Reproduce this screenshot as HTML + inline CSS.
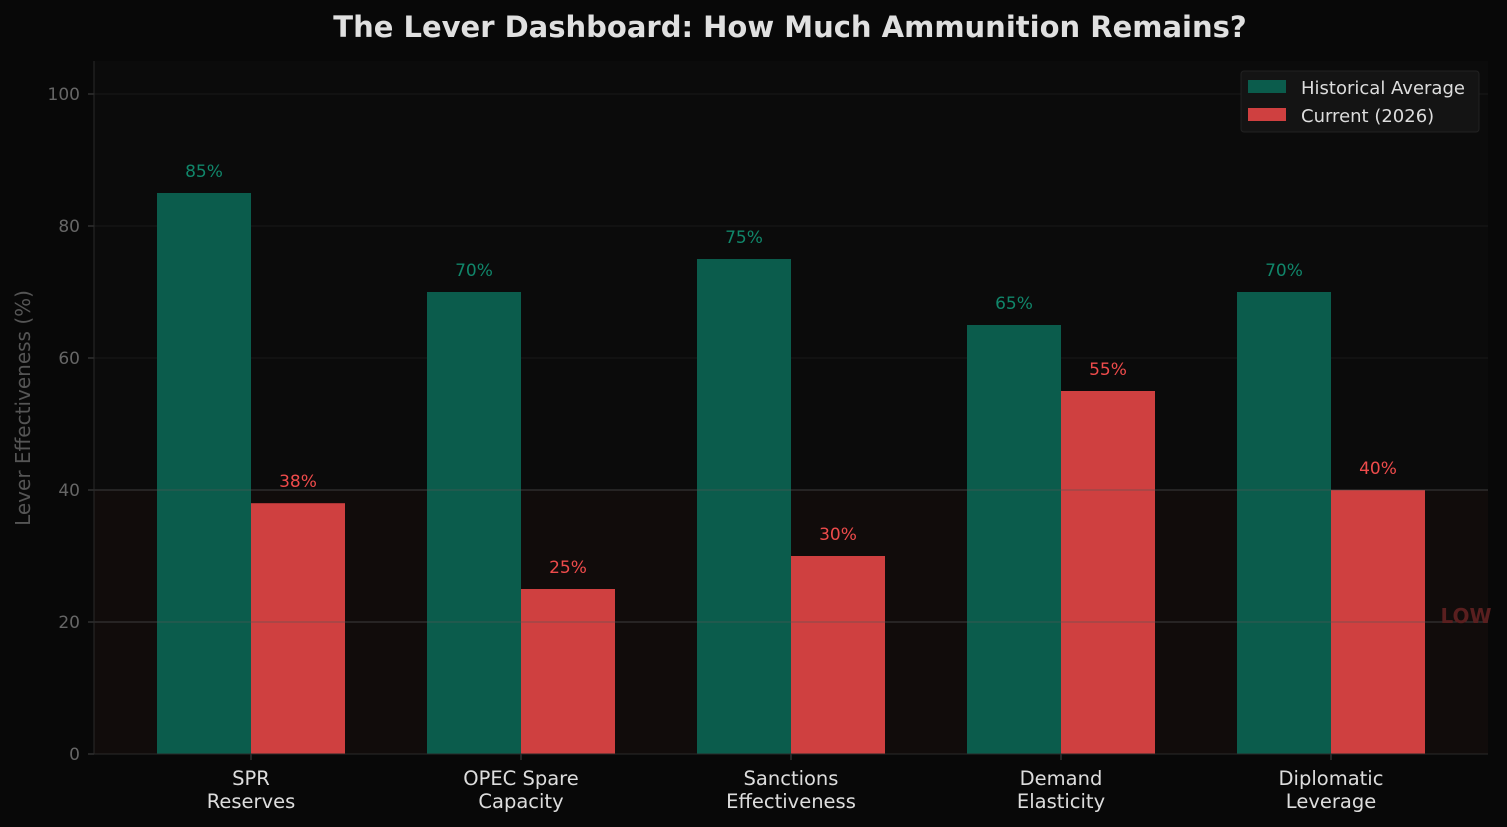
<!DOCTYPE html>
<html><head><meta charset="utf-8"><style>
body{margin:0;background:#080808;}
svg{display:block;font-family:"DejaVu Sans","Liberation Sans",sans-serif;}
</style></head><body>
<svg id="chart" width="1507" height="827">
<rect width="1507" height="827" fill="#080808"/>
<rect x="94" y="61" width="1394" height="693" fill="#0b0b0b"/>
<text x="790" y="37" fill="#e0e0e0" font-size="29" font-weight="bold" text-anchor="middle">The Lever Dashboard: How Much Ammunition Remains?</text>
<g id="grid"></g><g id="bars"></g><g id="axes"></g>
<g>
<rect x="1241" y="71" width="238" height="61" rx="3" fill="#141414" stroke="#222"/>
<rect x="1248" y="80" width="38" height="13" fill="#0b5c4c"/>
<text x="1301" y="94" fill="#dddddd" font-size="18">Historical Average</text>
<rect x="1248" y="108" width="38" height="13" fill="#cf4040"/>
<text x="1301" y="122" fill="#dddddd" font-size="18">Current (2026)</text>
</g>
</svg>
<script>
const categories=[["SPR","Reserves"],["OPEC Spare","Capacity"],["Sanctions","Effectiveness"],["Demand","Elasticity"],["Diplomatic","Leverage"]];
const historical=[85,70,75,65,70];
const current=[38,25,30,55,40];
const yTicks=[0,20,40,60,80,100];
const lowThreshold=40;
const NS="http://www.w3.org/2000/svg";
const x0=94,x1=1488,y0=754,pxPerUnit=6.6,groupStep=270,firstCenter=251,barW=94;
const y=v=>y0-v*pxPerUnit;
const cx=i=>firstCenter+i*groupStep;
function mk(tag,attrs,parent,txt){const e=document.createElementNS(NS,tag);for(const k in attrs)e.setAttribute(k,attrs[k]);if(txt!==undefined)e.textContent=txt;parent.appendChild(e);return e;}
const grid=document.getElementById('grid'),bars=document.getElementById('bars'),axes=document.getElementById('axes');
const zone=mk('rect',{x:x0,y:y(lowThreshold),width:x1-x0,height:y0-y(lowThreshold),fill:'#110c0b'},grid);


yTicks.forEach(t=>{
  const l=mk('line',{x1:x0,x2:x1,y1:y(t),y2:y(t),stroke:'#1a1a1a','stroke-width':1},grid);
  
  
  mk('line',{x1:x0-6,x2:x0,y1:y(t),y2:y(t),stroke:'#444'},axes);
  const tx=mk('text',{x:x0-14,y:y(t)+6,fill:'#666','font-size':17,'text-anchor':'end'},axes,String(t));
  
  
});
categories.forEach((c,i)=>{
  const h=historical[i],cu=current[i];
  const b1=mk('rect',{x:cx(i)-barW,y:y(h),width:barW,height:y0-y(h),fill:'#0b5c4c'},bars);
  
  
  const b2=mk('rect',{x:cx(i),y:y(cu),width:barW,height:y0-y(cu),fill:'#cf4040'},bars);
  
  
  const l1=mk('text',{x:cx(i)-barW/2,y:y(h)-16,fill:'#10866a','font-size':17,'text-anchor':'middle'},bars,h+'%');
  
  
  const l2=mk('text',{x:cx(i)+barW/2,y:y(cu)-16,fill:'#ee4b4b','font-size':17,'text-anchor':'middle'},bars,cu+'%');
  
  
  mk('line',{x1:cx(i),x2:cx(i),y1:y0,y2:y0+6,stroke:'#444'},axes);
  c.forEach((s,j)=>{
    const t=mk('text',{x:cx(i),y:y0+31+j*23,fill:'#dddddd','font-size':19.5,'text-anchor':'middle'},axes,s);
    
    
  });
});
[20,40].forEach(t=>{
  const l=mk('line',{x1:x0,x2:x1,y1:y(t),y2:y(t),stroke:'#555','stroke-opacity':0.6,'stroke-width':1},bars);
  
  
});
const low=mk('text',{x:1466,y:623,fill:'#5a1f1f','font-size':20,'font-weight':'bold','text-anchor':'middle'},bars,'LOW');


mk('line',{x1:x0,x2:x0,y1:61,y2:y0,stroke:'#2a2a2a'},axes);
mk('line',{x1:x0,x2:x1,y1:y0,y2:y0,stroke:'#2a2a2a'},axes);
const yt=mk('text',{x:30,y:408,fill:'#555','font-size':20,'text-anchor':'middle',transform:'rotate(-90 30 408)'},axes,'Lever Effectiveness (%)');


</script>
</body></html>
